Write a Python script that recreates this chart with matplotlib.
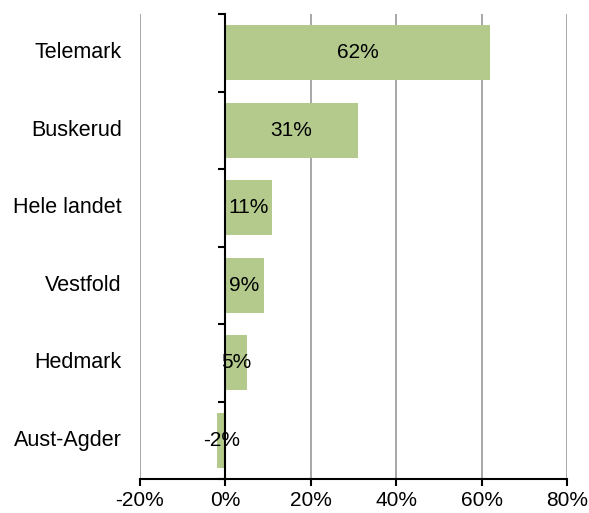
import numpy as np
import matplotlib.pyplot as plt
from matplotlib.ticker import FuncFormatter
import matplotlib.transforms as mtrans

plt.rcParams['font.family'] = ['Liberation Sans', 'DejaVu Sans']

regions = ['Telemark', 'Buskerud', 'Hele landet', 'Vestfold', 'Hedmark', 'Aust-Agder']
values = [62, 31, 11, 9, 5, -2]
xticks = [-20, 0, 20, 40, 60, 80]

fig = plt.figure(figsize=(5.89, 5.13), dpi=100)
ax = fig.add_axes([140/589, 1-479/513, 427/589, 465/513])

y = np.arange(len(regions))[::-1]
ax.barh(y, values, height=0.71, color='#b3ca8c', zorder=2)
for yi, v in zip(y, values):
    ax.text(v/2, yi, f'{v}%', ha='center', va='center', fontsize=15, zorder=3)

ax.set_xlim(-20, 80)
ax.set_ylim(-0.5, len(regions)-0.5)
ax.set_xticks(xticks)
ax.xaxis.set_major_formatter(FuncFormatter(lambda v, p: f'{v:.0f}%'))
ax.tick_params(axis='x', length=5, width=1.5, labelsize=15, pad=4)
ax.grid(axis='x', color='#a0a0a0', lw=1.3, zorder=0)

# zero line with category ticks
ax.spines['left'].set_position(('data', 0))
ax.spines['left'].set_linewidth(1.5)
ax.spines['left'].set_zorder(4)
ax.set_yticks(np.arange(-0.5, len(regions), 1.0))
ax.set_yticklabels([])
ax.tick_params(axis='y', length=5, width=1.5)
for s in ['top', 'right']:
    ax.spines[s].set_visible(False)
ax.spines['bottom'].set_linewidth(1.5)

tr = mtrans.blended_transform_factory(ax.transAxes, ax.transData)
for yi, name in zip(y, regions):
    ax.text(-0.043, yi, name, transform=tr, ha='right', va='center', fontsize=15.5)

fig.savefig('out.png', dpi=100)
